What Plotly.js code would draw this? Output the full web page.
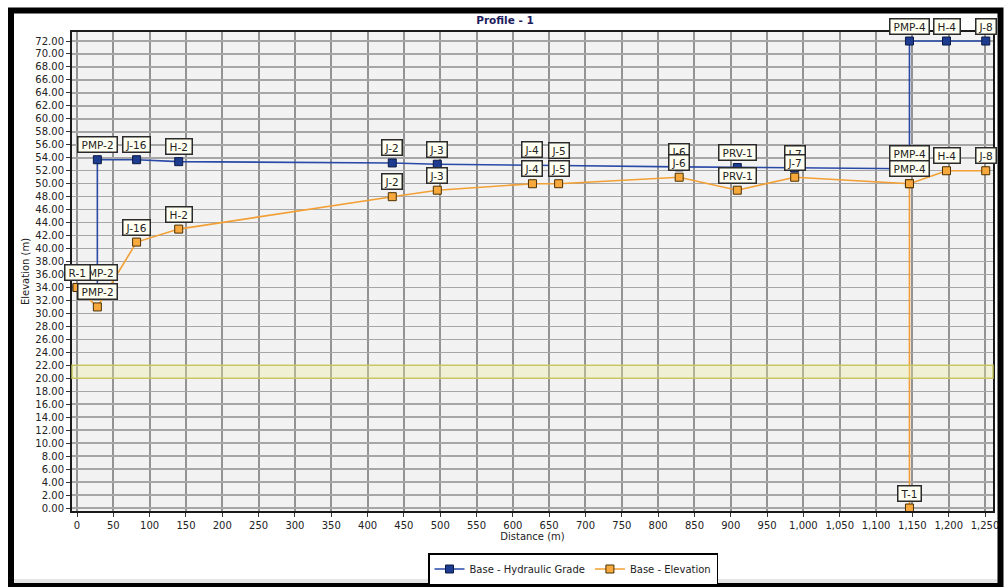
<!DOCTYPE html>
<html>
<head>
<meta charset="utf-8">
<script src="https://cdn.plot.ly/plotly-3.0.1.min.js"></script>
<style>html,body{margin:0;padding:0;background:#fff;overflow:hidden;}#chart{width:1004px;height:587px;}</style>
</head>
<body>
<div id="chart"></div>
<script>
// Hydraulic grade profile (node labels, distance m, hydraulic grade m)
const hglNames    = ['R-1','PMP-2','PMP-2','J-16','H-2','J-2','J-3','J-4','J-5','J-6','PRV-1','J-7','T-1','PMP-4','PMP-4','H-4','J-8'];
const hglDistance = [0, 28, 28, 82, 140, 434, 496, 627, 663, 829, 909, 988, 1146, 1146, 1146, 1197, 1251];
const hglValues   = [34.0, 34.0, 53.7, 53.7, 53.4, 53.2, 53.0, 52.9, 52.8, 52.6, 52.5, 52.4, 52.3, 52.3, 72.0, 72.0, 72.0];

// Ground elevation profile (node labels, distance m, elevation m)
const elevNames    = ['R-1','PMP-2','J-16','H-2','J-2','J-3','J-4','J-5','J-6','PRV-1','J-7','PMP-4','T-1','PMP-4','H-4','J-8'];
const elevDistance = [0, 28, 82, 140, 434, 496, 627, 663, 829, 909, 988, 1146, 1146, 1146, 1197, 1251];
const elevValues   = [34.0, 31.0, 41.0, 43.0, 48.0, 49.0, 50.0, 50.0, 51.0, 49.0, 51.0, 50.0, 0.0, 50.0, 52.0, 52.0];

const seriesNames = ['Base - Hydraulic Grade', 'Base - Elevation'];
const chartTitle = 'Profile - 1';
const xTitle = 'Distance (m)';
const yTitle = 'Elevation (m)';

const FONT = 'DejaVu Sans, Verdana, sans-serif';
const BLUE = '#2a4aa8', ORANGE = '#f2a035';

const traces = [
  {
    x: hglDistance, y: hglValues, name: seriesNames[0], mode: 'lines+markers',
    line: {color: BLUE, width: 1.6},
    marker: {symbol: 'square', size: 8, color: '#1d3c8f', line: {color: '#0b1a44', width: 1}},
    hoverinfo: 'skip'
  },
  {
    x: elevDistance, y: elevValues, name: seriesNames[1], mode: 'lines+markers',
    line: {color: ORANGE, width: 1.6},
    marker: {symbol: 'square', size: 8, color: '#f7a93e', line: {color: '#4a3000', width: 1}},
    hoverinfo: 'skip'
  }
];

const SP = '\u2009';
function labelAnn(x, y, t) {
  return {
    x: x, y: y, xref: 'x', yref: 'y', text: SP + t + SP, showarrow: false, yshift: 15,
    font: {family: FONT, size: 10.5, color: '#222'},
    bgcolor: '#fffff2', bordercolor: '#2a2a2a', borderwidth: 1.5, borderpad: 1
  };
}
const annotations = [];
hglNames.forEach((n, i) => annotations.push(labelAnn(hglDistance[i], hglValues[i], n)));
elevNames.forEach((n, i) => annotations.push(labelAnn(elevDistance[i], elevValues[i], n)));

// pixel helpers for frame decorations (plot area: x 72..993, y 32..511)
const L = 72, R = 993, T = 32, B = 511;
const px = v => (v - L) / (R - L);
const py = v => (B - v) / (B - T);

const shapes = [
  // yellow band
  {type: 'rect', xref: 'paper', yref: 'y', x0: 0, x1: 1, y0: 20, y1: 22,
   fillcolor: 'rgba(238,238,160,0.35)', line: {color: 'rgba(200,200,90,0.9)', width: 1.5}, layer: 'above'},
  // grey strip at the bottom
  {type: 'rect', xref: 'paper', yref: 'paper', x0: px(11), x1: px(1001), y0: py(584), y1: py(579),
   fillcolor: '#e6e6e6', line: {width: 0}},
  // black frame
  {type: 'rect', xref: 'paper', yref: 'paper', x0: px(11), x1: px(1000.5), y0: py(586), y1: py(10.5),
   line: {color: '#000', width: 6}, fillcolor: 'rgba(0,0,0,0)'}
];

const layout = {
  width: 1004, height: 587,
  margin: {l: L, r: 1004 - R, t: T, b: 587 - B, autoexpand: false},
  paper_bgcolor: '#ffffff', plot_bgcolor: '#f2f2f2',
  font: {family: FONT, size: 10, color: '#222'},
  title: {text: '<b>' + chartTitle + '</b>', font: {family: FONT, size: 10.5, color: '#1c1c5c'},
          x: 0.503, xref: 'container', y: 1 - 20 / 587, yref: 'container', yanchor: 'middle'},
  xaxis: {
    range: [-6.9, 1261], dtick: 50, tick0: 0, tickformat: ',d',
    showgrid: true, gridcolor: '#939393', gridwidth: 2, zeroline: false,
    showline: true, linecolor: '#1a1a1a', linewidth: 2, mirror: true,
    ticks: 'outside', ticklen: 4, tickcolor: '#333',
    tickfont: {family: FONT, size: 10, color: '#222'},
    title: {text: xTitle, font: {family: FONT, size: 10, color: '#222'}, standoff: 2},
    automargin: false
  },
  yaxis: {
    range: [-0.46, 73.39], dtick: 2, tick0: 0, tickformat: '.2f',
    showgrid: true, gridcolor: '#a6a6a6', gridwidth: 1.5, zeroline: false,
    showline: true, linecolor: '#1a1a1a', linewidth: 2, mirror: true,
    ticks: 'outside', ticklen: 4, tickcolor: '#333',
    tickfont: {family: FONT, size: 10, color: '#222'},
    title: {text: yTitle, font: {family: FONT, size: 10, color: '#222'}, standoff: 4},
    automargin: false
  },
  showlegend: true,
  legend: {
    orientation: 'h', xref: 'container', x: 428 / 1004, xanchor: 'left',
    yref: 'container', y: 1 - 569 / 587, yanchor: 'middle',
    bgcolor: '#ffffff', bordercolor: '#000', borderwidth: 1.5,
    font: {family: FONT, size: 10, color: '#222'}, itemwidth: 30, tracegroupgap: 0
  },
  annotations: annotations,
  shapes: shapes
};

Plotly.newPlot('chart', traces, layout, {displayModeBar: false, staticPlot: true});
</script>
</body>
</html>
